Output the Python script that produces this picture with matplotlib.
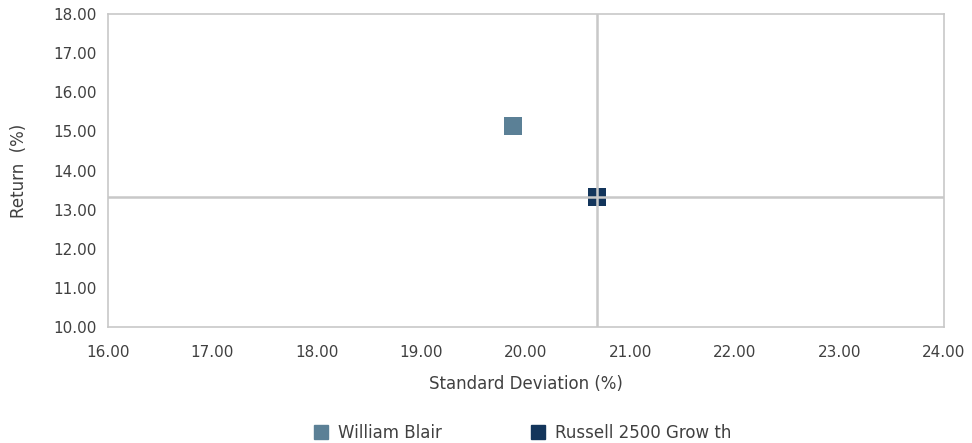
import matplotlib
matplotlib.use("Agg")
import matplotlib.pyplot as plt
from matplotlib.lines import Line2D

names = ["William Blair", "Russell 2500 Grow th"]
std_dev = [19.88, 20.68]
returns = [15.14, 13.33]
colors = ["#5B8096", "#13355B"]
xticks = [16, 17, 18, 19, 20, 21, 22, 23, 24]
yticks = [10, 11, 12, 13, 14, 15, 16, 17, 18]

plt.rcParams['font.family'] = ['DejaVu Sans']
fig = plt.figure(figsize=(9.72, 4.43), dpi=100)
ax = fig.add_axes([0.111, 0.262, 0.86, 0.706])

for s, r, c in zip(std_dev, returns, colors):
    ax.scatter([s], [r], marker='s', s=150, color=c, zorder=3, linewidths=0)

# crosshair at benchmark
ax.axvline(std_dev[1], color="#c8c8c8", lw=1.8, zorder=4)
ax.axhline(returns[1], color="#c8c8c8", lw=1.8, zorder=4)

ax.set_xlim(16, 24)
ax.set_ylim(10, 18)
ax.set_xticks(xticks)
ax.set_yticks(yticks)
ax.set_xticklabels([f"{v:.2f}" for v in xticks])
ax.set_yticklabels([f"{v:.2f}" for v in yticks])
ax.tick_params(axis='x', length=0, labelsize=11, colors="#404040", pad=13)
ax.tick_params(axis='y', length=0, labelsize=11, colors="#404040", pad=8)
for sp in ax.spines.values():
    sp.set_color("#c8c8c8")
    sp.set_linewidth(1.2)

ax.set_xlabel("Standard Deviation (%)", fontsize=12, color="#404040", labelpad=11)
ax.set_ylabel("Return  (%)", fontsize=12, color="#404040", labelpad=18)

handles = [Line2D([0], [0], marker='s', ls='none', markersize=10, color=c) for c in colors]
fig.legend(handles, names, loc='lower center', bbox_to_anchor=(0.537, -0.032), ncol=2,
           frameon=False, fontsize=12, columnspacing=5.3, handlelength=1.0,
           handletextpad=0.5, labelcolor="#404040")

fig.savefig("out.png", dpi=100)
